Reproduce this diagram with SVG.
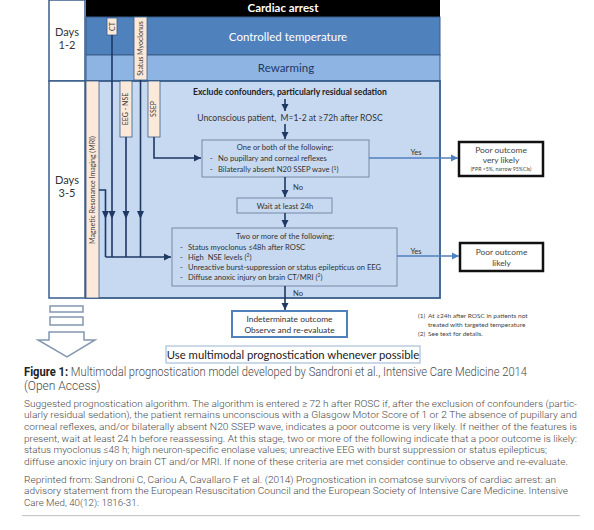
<svg xmlns="http://www.w3.org/2000/svg" width="594" height="530" viewBox="0 0 594 530">
<defs>
<marker id="an" markerUnits="userSpaceOnUse" markerWidth="8" markerHeight="8" refX="7" refY="4" orient="auto"><path d="M0,0.5 L7,4 L0,7.5 z" fill="#1f3864"/></marker>
<marker id="ab" markerUnits="userSpaceOnUse" markerWidth="8" markerHeight="8" refX="7" refY="4" orient="auto"><path d="M0,0.5 L7,4 L0,7.5 z" fill="#4f81bd"/></marker>
<style>
.f{font-family:Lato,"Liberation Sans",sans-serif}
.c{font-family:Roboto,"Liberation Sans",sans-serif;font-weight:300;fill:#4a4a4a}
.peach{fill:#fde9d9;stroke:#385d8a;stroke-width:0.8}
.nav{stroke:#1f3864;stroke-width:1.6;fill:none}
.blu{stroke:#4f81bd;stroke-width:1.6;fill:none}
.box{fill:#c6d9f1;stroke:#6f819b;stroke-width:0.9}
.pbox{fill:#fff;stroke:#111;stroke-width:2.5}
.t{font-size:7.6px;fill:#333}
.v{font-size:7px;fill:#3a3a3a;text-anchor:middle}
.ic{fill:#fff;stroke:#8496b0;stroke-width:1.5}
</style>
</defs>
<g id="bands">
<rect x="86" y="0" width="354" height="17" fill="#000"/>
<rect x="86" y="17" width="354" height="38" fill="#4f81bd" stroke="#385d8a" stroke-width="1"/>
<rect x="86" y="55" width="354" height="26" fill="#8eb4e3" stroke="#385d8a" stroke-width="1"/>
<rect x="86" y="81" width="354" height="217" fill="#c6d9f1" stroke="#385d8a" stroke-width="1.8"/>
<text class="f" x="283" y="12" font-size="11.5" font-weight="bold" fill="#fff" text-anchor="middle">Cardiac arrest</text>
<text class="f" x="288" y="41" font-size="11.5" fill="#fff" text-anchor="middle">Controlled temperature</text>
<text class="f" x="286" y="72" font-size="11.5" fill="#1f3864" text-anchor="middle">Rewarming</text>
</g>
<g id="days-1-2">
<rect x="49" y="0" width="36" height="81" fill="#fff" stroke="#385d8a" stroke-width="1.5"/>
<text class="f" x="67" y="36" font-size="11" fill="#333" text-anchor="middle">Days</text>
<text class="f" x="67" y="49" font-size="11" fill="#333" text-anchor="middle">1-2</text>
</g>
<g id="days-3-5">
<rect x="49" y="81" width="36" height="217" fill="#fff" stroke="#385d8a" stroke-width="1.5"/>
<text class="f" x="67" y="184" font-size="11" fill="#333" text-anchor="middle">Days</text>
<text class="f" x="67" y="197" font-size="11" fill="#333" text-anchor="middle">3-5</text>
</g>
<g id="mri">
<rect class="peach" x="86" y="81" width="13" height="217" stroke-width="1.2"/>
<text class="f v" transform="translate(92.5,190) rotate(-90)" y="2.5">Magnetic Resonance Imaging (MRI)</text>
</g>
<g id="ct">
<rect class="peach" x="107" y="18" width="10" height="17"/>
<text class="f v" transform="translate(112,26.5) rotate(-90)" y="2.5">CT</text>
</g>
<g id="status-myoclonus">
<rect class="peach" x="134" y="17" width="13" height="63"/>
<text class="f v" transform="translate(140.5,48.5) rotate(-90)" y="2.5">Status Myoclonus</text>
</g>
<g id="eeg-nse">
<rect class="peach" x="120" y="81" width="12" height="56"/>
<text class="f v" transform="translate(126,109) rotate(-90)" y="2.3" font-size="6.5">EEG - NSE</text>
</g>
<g id="ssep">
<rect class="peach" x="148" y="81" width="12" height="56"/>
<text class="f v" transform="translate(154,109) rotate(-90)" y="2.3" font-size="6.5">SSEP</text>
</g>
<g id="exclude">
<text class="f" x="290" y="95" font-size="8.6" font-weight="bold" fill="#222" text-anchor="middle">Exclude confounders, particularly residual sedation</text>
</g>
<g id="unconscious">
<text class="f" x="290" y="121" font-size="8.6" fill="#333" text-anchor="middle" xml:space="preserve">Unconscious patient,  M=1-2 at ≥72h after ROSC</text>
</g>
<g id="one-or-both">
<rect class="box" x="202" y="140" width="167" height="37"/>
<text class="f t" x="285" y="150" text-anchor="middle">One or both of the following:</text>
<text class="f t" x="210" y="161">-</text><text class="f t" x="218" y="161">No pupillary and corneal reflexes</text>
<text class="f t" x="210" y="172">-</text><text class="f t" x="218" y="172">Bilaterally absent N20 SSEP wave (<tspan font-size="5" dy="-2.5">1</tspan><tspan dy="2.5">)</tspan></text>
</g>
<g id="wait">
<rect class="box" x="237" y="198" width="95" height="15"/>
<text class="f t" x="285" y="208.5" text-anchor="middle">Wait at least 24h</text>
</g>
<g id="two-or-more">
<rect class="box" x="172" y="228" width="225" height="58"/>
<text class="f t" x="285" y="238.5" text-anchor="middle">Two or more of the following:</text>
<text class="f t" x="180" y="249.5">-</text><text class="f t" x="188" y="249.5">Status myoclonus ≤48h after ROSC</text>
<text class="f t" x="180" y="259.5">-</text><text class="f t" x="188" y="259.5" xml:space="preserve">High  NSE levels (<tspan font-size="5" dy="-2.5">2</tspan><tspan dy="2.5">)</tspan></text>
<text class="f t" x="180" y="269.5">-</text><text class="f t" x="188" y="269.5">Unreactive burst-suppression or status epilepticus on EEG</text>
<text class="f t" x="180" y="279.5">-</text><text class="f t" x="188" y="279.5">Diffuse anoxic injury on brain CT/MRI (<tspan font-size="5" dy="-2.5">2</tspan><tspan dy="2.5">)</tspan></text>
</g>
<g id="indeterminate">
<rect x="232" y="311" width="115" height="26" fill="#fff" stroke="#4f81bd" stroke-width="2"/>
<text class="f" x="289.5" y="322" font-size="8.4" fill="#333" text-anchor="middle">Indeterminate outcome</text>
<text class="f" x="289.5" y="333" font-size="8.4" fill="#333" text-anchor="middle">Observe and re-evaluate</text>
</g>
<g id="poor-very-likely">
<rect class="pbox" x="459" y="142" width="84" height="34"/>
<text class="f" x="501" y="153" font-size="8.4" fill="#444" text-anchor="middle">Poor outcome</text>
<text class="f" x="501" y="162.5" font-size="8.4" fill="#444" text-anchor="middle">very likely</text>
<text class="f" x="501" y="170.5" font-size="5.2" fill="#444" text-anchor="middle">(FPR &lt;5%, narrow 95%CIs)</text>
</g>
<g id="poor-likely">
<rect class="pbox" x="460" y="243" width="83" height="28"/>
<text class="f" x="501.5" y="255" font-size="8.4" fill="#444" text-anchor="middle">Poor outcome</text>
<text class="f" x="501.5" y="265.5" font-size="8.4" fill="#444" text-anchor="middle">likely</text>
</g>
<g id="use-multimodal">
<rect x="166" y="346" width="254" height="17" fill="#fff" stroke="#a9bfd8" stroke-width="1.2"/>
<text class="f" x="293" y="359" font-size="11.3" fill="#222" text-anchor="middle">Use multimodal prognostication whenever possible</text>
</g>
<g id="footnotes" class="f" font-size="6.5" fill="#444">
<text x="418" y="317.5">(1)</text><text x="428" y="317.5">At ≥24h after ROSC in patients not</text>
<text x="428" y="326.5">treated with targeted temperature</text>
<text x="418" y="335.5">(2)</text><text x="428" y="335.5">See text for details.</text>
</g>
<g id="timeline-icon">
<rect class="ic" x="50" y="306" width="33" height="6"/>
<rect class="ic" x="50" y="317" width="33" height="8"/>
<path class="ic" d="M49,332 H84 V340 H95 L67,357 L38,340 H49 Z"/>
</g>
<g id="connectors">
<path class="nav" d="M112,35 V257"/>
<path class="nav" d="M140.5,80 V257"/>
<path class="nav" d="M126,137 V257"/>
<path class="nav" d="M99,190 H105.5 V257"/>
<path class="nav" d="M105.5,257 H171" marker-end="url(#an)"/>
<path class="nav" d="M154,137 V158 H201" marker-end="url(#an)"/>
<g fill="#1f3864">
<path d="M102,211 H109 L105.5,219 Z"/>
<path d="M108.5,211 H115.5 L112,219 Z"/>
<path d="M122.5,211 H129.5 L126,219 Z"/>
<path d="M137,211 H144 L140.5,219 Z"/>
</g>
<path class="nav" d="M285,99 V111" marker-end="url(#an)"/>
<path class="nav" d="M285,124 V139" marker-end="url(#an)"/>
<path class="nav" d="M285,177 V197" marker-end="url(#an)"/>
<path class="nav" d="M285,213 V227" marker-end="url(#an)"/>
<path class="nav" d="M285,286 V310" marker-end="url(#an)"/>
<path class="blu" d="M369,158 H458" marker-end="url(#ab)"/>
<path class="blu" d="M397,256 H459" marker-end="url(#ab)"/>
<text class="f" x="293" y="190" font-size="7.6" fill="#333">No</text>
<text class="f" x="293" y="296" font-size="7.6" fill="#333">No</text>
<text class="f" x="416" y="154.5" font-size="7.6" fill="#333" text-anchor="middle">Yes</text>
<text class="f" x="416" y="253.5" font-size="7.6" fill="#333" text-anchor="middle">Yes</text>
</g>
<g id="caption">
<text class="c" x="24" y="376" font-size="12" textLength="503" lengthAdjust="spacingAndGlyphs"><tspan font-weight="bold" fill="#222">Figure 1:</tspan> Multimodal prognostication model developed by Sandroni et al., Intensive Care Medicine 2014</text>
<text class="c" x="24" y="389.5" font-size="12">(Open Access)</text>
<g font-size="9.6">
<text class="c" x="24" y="406.5" textLength="553" lengthAdjust="spacingAndGlyphs">Suggested prognostication algorithm. The algorithm is entered ≥ 72 h after ROSC if, after the exclusion of confounders (partic-</text>
<text class="c" x="24" y="418.2" textLength="553" lengthAdjust="spacingAndGlyphs">ularly residual sedation), the patient remains unconscious with a Glasgow Motor Score of 1 or 2 The absence of pupillary and</text>
<text class="c" x="24" y="430" textLength="553" lengthAdjust="spacingAndGlyphs">corneal reflexes, and/or bilaterally absent N20 SSEP wave, indicates a poor outcome is very likely. If neither of the features is</text>
<text class="c" x="24" y="441.6" textLength="553" lengthAdjust="spacingAndGlyphs">present, wait at least 24 h before reassessing. At this stage, two or more of the following indicate that a poor outcome is likely:</text>
<text class="c" x="24" y="453.3" textLength="523" lengthAdjust="spacingAndGlyphs">status myoclonus ≤48 h; high neuron-specific enolase values; unreactive EEG with burst suppression or status epilepticus;</text>
<text class="c" x="24" y="465" textLength="544" lengthAdjust="spacingAndGlyphs">diffuse anoxic injury on brain CT and/or MRI. If none of these criteria are met consider continue to observe and re-evaluate.</text>
<text class="c" x="24" y="482.5" textLength="532" lengthAdjust="spacingAndGlyphs">Reprinted from: Sandroni C, Cariou A, Cavallaro F et al. (2014) Prognostication in comatose survivors of cardiac arrest: an</text>
<text class="c" x="24" y="494" textLength="544" lengthAdjust="spacingAndGlyphs">advisory statement from the European Resuscitation Council and the European Society of Intensive Care Medicine. Intensive</text>
<text class="c" x="24" y="505.5" textLength="115" lengthAdjust="spacingAndGlyphs">Care Med, 40(12): 1816-31.</text>
</g>
<rect x="22" y="515" width="558" height="1.2" fill="#c8c8c8"/>
</g>
</svg>
